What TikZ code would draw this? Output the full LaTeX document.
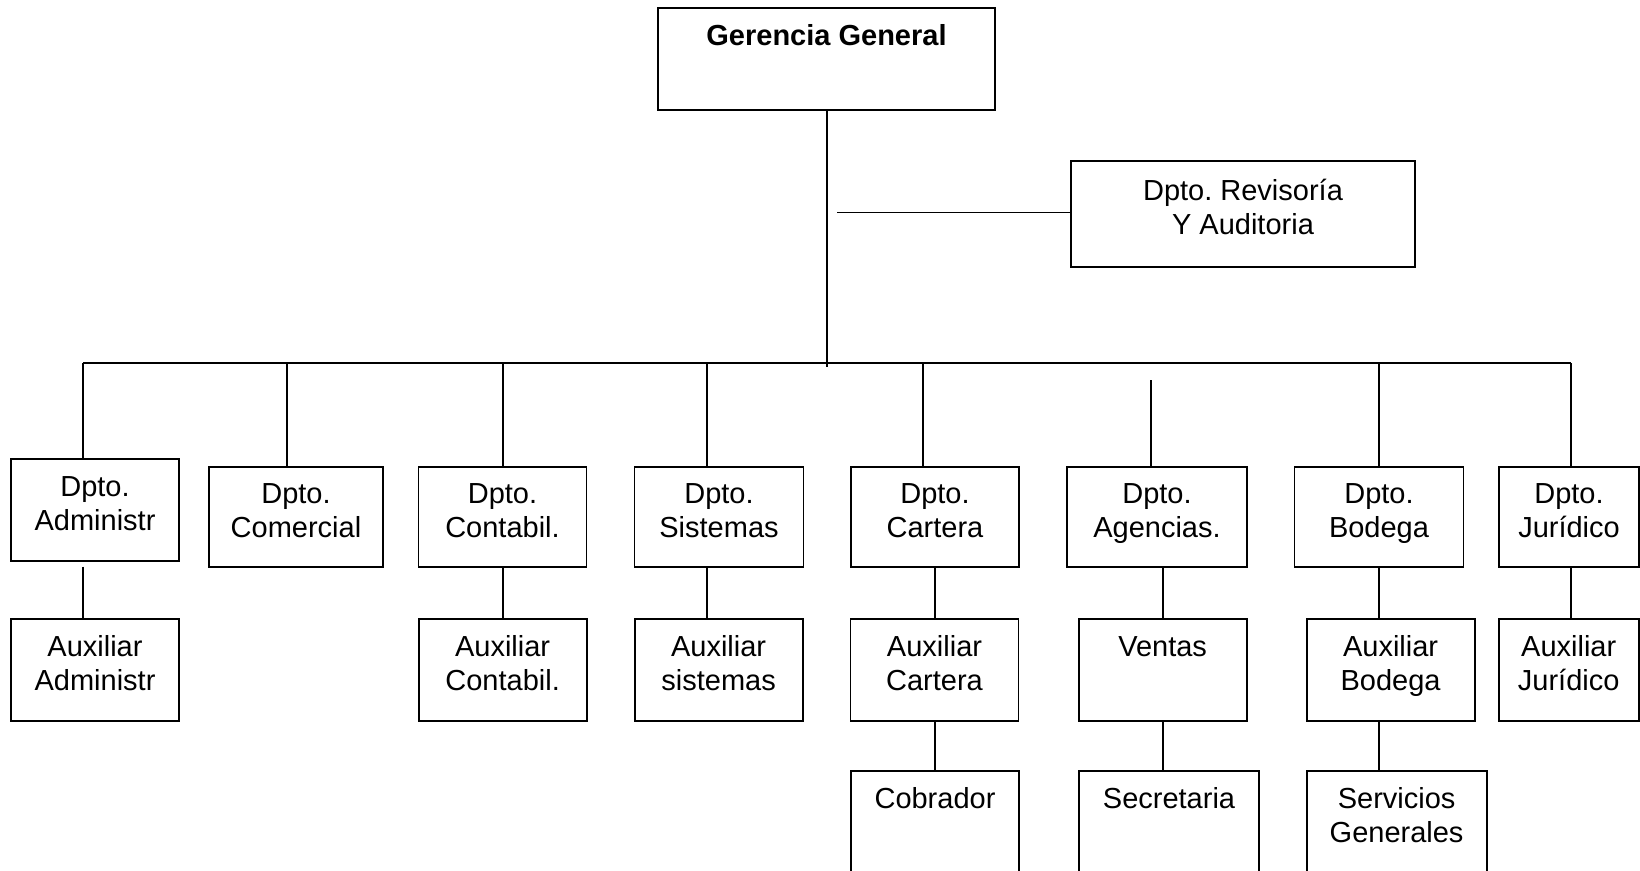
\documentclass[tikz,border=0pt]{standalone}
\usepackage{fontspec}
\setmainfont{Liberation Sans}
\newcommand{\twoln}[2]{\begin{tabular}[t]{@{}c@{}}#1\\#2\end{tabular}}
\begin{document}
\begin{tikzpicture}[x=1pt,y=-1pt,
  orgbox/.style={draw, line width=1.9pt, inner sep=0pt, outer sep=0pt,
    text height=22pt, text depth=50pt, font=\fontsize{29}{34}\selectfont\frenchspacing},
  wire/.style={line width=1.9pt}]
\useasboundingbox (0,0) rectangle (1640,870);

% top
\node[orgbox, minimum width=337pt, minimum height=102pt] (ger) at (826.5,59) {\twoln{\textbf{Gerencia General}}{}};
\node[orgbox, minimum width=344pt, minimum height=106pt] (rev) at (1243,214) {\twoln{Dpto. Revisoría}{Y Auditoria}};

% row 1
\node[orgbox, minimum width=168pt, minimum height=102pt] (adm) at (95,510) {\twoln{Dpto.}{Administr}};
\node[orgbox, minimum width=174pt, minimum height=100pt] (com) at (296,517) {\twoln{Dpto.}{Comercial}};
\node[orgbox, minimum width=168pt, minimum height=100pt] (con) at (502.5,517) {\twoln{Dpto.}{Contabil.}};
\node[orgbox, minimum width=169pt, minimum height=100pt] (sis) at (719,517) {\twoln{Dpto.}{Sistemas}};
\node[orgbox, minimum width=168pt, minimum height=100pt] (car) at (935,517) {\twoln{Dpto.}{Cartera}};
\node[orgbox, minimum width=180pt, minimum height=100pt] (age) at (1157,517) {\twoln{Dpto.}{Agencias.}};
\node[orgbox, minimum width=169pt, minimum height=100pt] (bod) at (1379,517) {\twoln{Dpto.}{Bodega}};
\node[orgbox, minimum width=140pt, minimum height=100pt] (jur) at (1569,517) {\twoln{Dpto.}{Jurídico}};

% row 2
\node[orgbox, minimum width=168pt, minimum height=102pt] (aadm) at (95,670) {\twoln{Auxiliar}{Administr}};
\node[orgbox, minimum width=168pt, minimum height=102pt] (acon) at (502.6,670) {\twoln{Auxiliar}{Contabil.}};
\node[orgbox, minimum width=168pt, minimum height=102pt] (asis) at (718.6,670) {\twoln{Auxiliar}{sistemas}};
\node[orgbox, minimum width=168pt, minimum height=102pt] (acar) at (934.5,670) {\twoln{Auxiliar}{Cartera}};
\node[orgbox, minimum width=168pt, minimum height=102pt] (ven) at (1162.6,670) {\twoln{Ventas}{}};
\node[orgbox, minimum width=168pt, minimum height=102pt] (abod) at (1390.6,670) {\twoln{Auxiliar}{Bodega}};
\node[orgbox, minimum width=140pt, minimum height=102pt] (ajur) at (1568.7,670) {\twoln{Auxiliar}{Jurídico}};

% row 3
\node[orgbox, minimum width=168pt, minimum height=102pt] (cob) at (935,822) {\twoln{Cobrador}{}};
\node[orgbox, minimum width=180pt, minimum height=102pt] (sec) at (1169,822) {\twoln{Secretaria}{}};
\node[orgbox, minimum width=180pt, minimum height=102pt] (ser) at (1396.6,822) {\twoln{Servicios}{Generales}};

% helper coordinates
\coordinate (trunkend) at (827,367);
\coordinate (revl) at (837,212.5);
\coordinate (busl) at (83,363);
\coordinate (busr) at (1571,363);
\coordinate (cB) at (287,0);
\coordinate (cC) at (503,0);
\coordinate (cD) at (707,0);
\coordinate (cE) at (923,0);
\coordinate (cE2) at (935,0);
\coordinate (cF2) at (1163,0);
\coordinate (cG) at (1378.6,0);
\coordinate (cH) at (1571,0);
\coordinate (agetop) at (1151,380);
\coordinate (admgap) at (83,566.7);

% connectors
\draw[wire] (ger.south -| trunkend) -- (trunkend);
\draw[wire] (revl) -- (revl -| rev.west);
\draw[wire] (busl) -- (busr);
\draw[wire] (busl) -- (busl |- adm.north);
\draw[wire] (busl -| cB) -- (cB |- com.north);
\draw[wire] (busl -| cC) -- (cC |- con.north);
\draw[wire] (busl -| cD) -- (cD |- sis.north);
\draw[wire] (busl -| cE) -- (cE |- car.north);
\draw[wire] (agetop) -- (agetop |- age.north);
\draw[wire] (busl -| cG) -- (cG |- bod.north);
\draw[wire] (busr) -- (busr |- jur.north);

\draw[wire] (admgap) -- (admgap |- aadm.north);
\draw[wire] (con.south -| cC) -- (cC |- acon.north);
\draw[wire] (sis.south -| cD) -- (cD |- asis.north);
\draw[wire] (car.south -| cE2) -- (cE2 |- acar.north);
\draw[wire] (age.south -| cF2) -- (cF2 |- ven.north);
\draw[wire] (bod.south -| cG) -- (cG |- abod.north);
\draw[wire] (jur.south -| cH) -- (cH |- ajur.north);

\draw[wire] (acar.south -| cE2) -- (cE2 |- cob.north);
\draw[wire] (ven.south -| cF2) -- (cF2 |- sec.north);
\draw[wire] (abod.south -| cG) -- (cG |- ser.north);
\end{tikzpicture}
\end{document}
